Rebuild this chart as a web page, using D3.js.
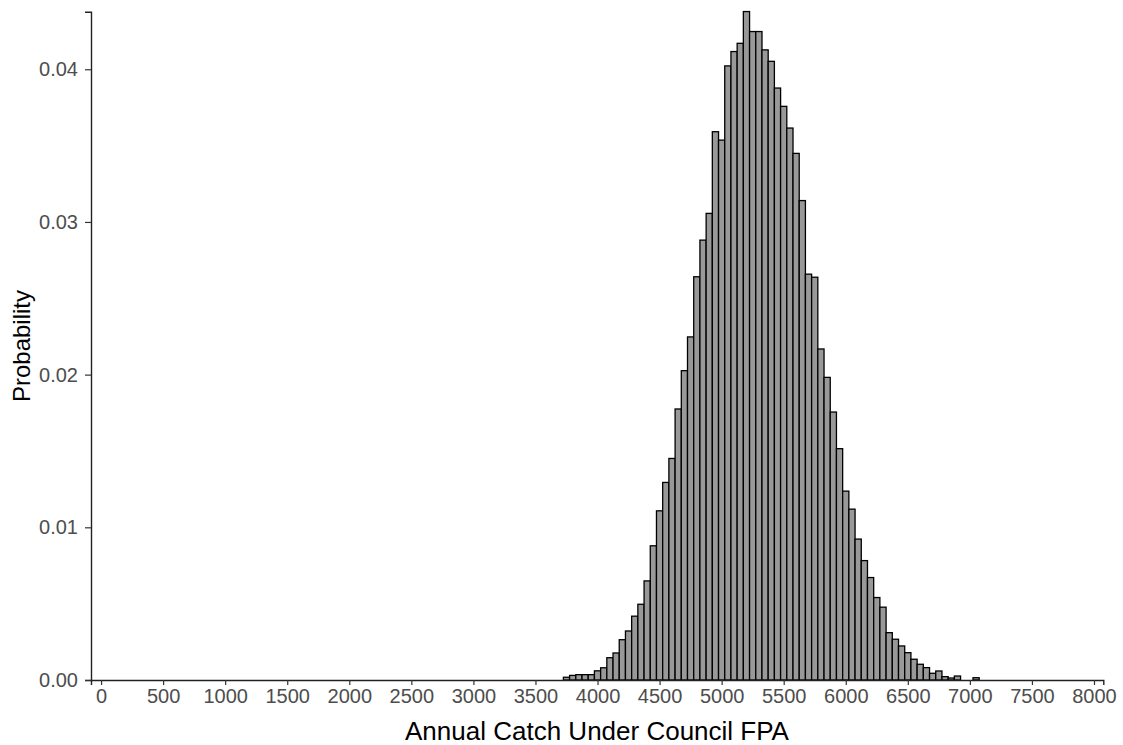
<!DOCTYPE html>
<html>
<head>
<meta charset="utf-8">
<script src="https://cdn.jsdelivr.net/npm/d3@7"></script>
<style>
	body { margin: 0; background: #fff; }
	svg { display: block; }
</style>
</head>
<body>
<div id="chart"></div>
<script>
// histogram bins (centre of each 50-wide bin) and their probability
const binCenters = [
	3750, 3800, 3850, 3900, 3950, 4000, 4050, 4100, 4150, 4200,
	4250, 4300, 4350, 4400, 4450, 4500, 4550, 4600, 4650, 4700,
	4750, 4800, 4850, 4900, 4950, 5000, 5050, 5100, 5150, 5200,
	5250, 5300, 5350, 5400, 5450, 5500, 5550, 5600, 5650, 5700,
	5750, 5800, 5850, 5900, 5950, 6000, 6050, 6100, 6150, 6200,
	6250, 6300, 6350, 6400, 6450, 6500, 6550, 6600, 6650, 6700,
	6750, 6800, 6850, 6900, 6950, 7000, 7050
];
const probabilities = [
	0.00018, 0.00030, 0.00035, 0.00035, 0.00035, 0.00060, 0.00080, 0.00146, 0.00177, 0.00264,
	0.00321, 0.00418, 0.00496, 0.00649, 0.00879, 0.01108, 0.01294, 0.01451, 0.01775, 0.02026,
	0.02247, 0.02641, 0.02881, 0.03056, 0.03591, 0.03536, 0.04022, 0.04116, 0.04170, 0.04378,
	0.04247, 0.04247, 0.04127, 0.04052, 0.03877, 0.03757, 0.03615, 0.03449, 0.03140, 0.02658,
	0.02638, 0.02168, 0.01982, 0.01755, 0.01515, 0.01237, 0.01119, 0.00923, 0.00782, 0.00671,
	0.00540, 0.00477, 0.00310, 0.00267, 0.00223, 0.00179, 0.00136, 0.00103, 0.00081, 0.00044,
	0.00059, 0.00022, 0.00013, 0.00026, 0, 0, 0.00015
];
const binWidth = 50;
const xTicks = [0, 500, 1000, 1500, 2000, 2500, 3000, 3500, 4000, 4500, 5000, 5500, 6000, 6500, 7000, 7500, 8000];
const yTicks = [0, 0.01, 0.02, 0.03, 0.04];

(function (d3) {
	"use strict";

	const W = 1123, H = 745;
	const margin = { top: 11.7, right: 20, bottom: 65, left: 91 };
	const width = 1103.3 - margin.left;
	const height = 680 - margin.top;

	const svg = d3.select("#chart").append("svg")
		.attr("width", W)
		.attr("height", H);
	const g = svg.append("g")
		.attr("transform", "translate(" + margin.left + "," + margin.top + ")");

	const x = d3.scaleLinear().domain([-81, 8075]).range([0, width]);
	const y = d3.scaleLinear().domain([0, 0.04377]).range([height, 0]);

	const data = binCenters.map((c, i) => ({ c: c, p: probabilities[i] }));

	// bars
	g.selectAll(".bar")
		.data(data)
		.enter().append("rect")
		.attr("class", "bar")
		.attr("x", d => x(d.c - binWidth / 2))
		.attr("width", d => x(d.c + binWidth / 2) - x(d.c - binWidth / 2))
		.attr("y", d => y(d.p))
		.attr("height", d => height - y(d.p))
		.attr("fill", "#999999")
		.attr("stroke", "#000")
		.attr("stroke-width", 1.3);

	// axes
	const xAxis = g.append("g")
		.attr("transform", "translate(0," + height + ")")
		.call(d3.axisBottom(x).tickValues(xTicks).tickFormat(d3.format("d")).tickSize(5).tickPadding(4));
	const yAxis = g.append("g")
		.call(d3.axisLeft(y).tickValues(yTicks).tickFormat(d3.format(".2f")).tickSize(6).tickPadding(7));

	[xAxis, yAxis].forEach(a => {
		a.select(".domain").attr("stroke", "#222").attr("stroke-width", 1.4);
		a.selectAll(".tick line").attr("stroke", "#333").attr("stroke-width", 1.2);
		a.selectAll(".tick text")
			.attr("fill", "#4d4d4d")
			.style("font-family", "'Liberation Sans', Arial, sans-serif")
			.style("font-size", "20px");
	});

	// axis titles
	svg.append("text")
		.attr("x", 597)
		.attr("y", 740)
		.attr("text-anchor", "middle")
		.style("font-family", "'Liberation Sans', Arial, sans-serif")
		.style("font-size", "26px")
		.attr("fill", "#000")
		.text("Annual Catch Under Council FPA");

	svg.append("text")
		.attr("transform", "translate(30,346) rotate(-90)")
		.attr("text-anchor", "middle")
		.style("font-family", "'Liberation Sans', Arial, sans-serif")
		.style("font-size", "24px")
		.attr("fill", "#000")
		.text("Probability");

})(d3);
</script>
</body>
</html>
